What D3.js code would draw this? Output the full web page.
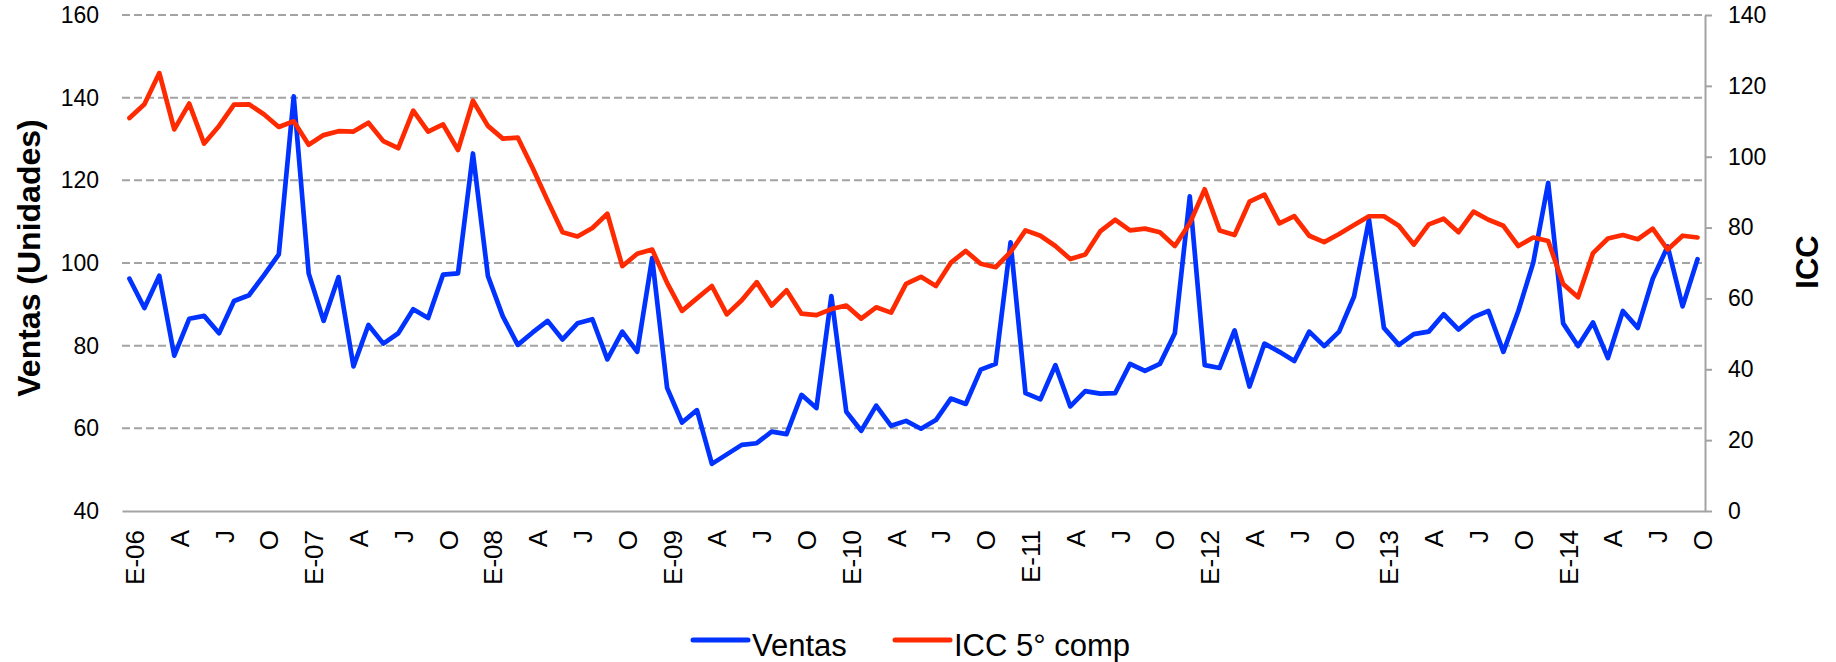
<!DOCTYPE html>
<html>
<head>
<meta charset="utf-8">
<script src="https://cdn.jsdelivr.net/npm/d3@7"></script>
<style>
  body { margin: 0; background: #fff; }
  svg { display: block; font-family: "Liberation Sans", Arial, sans-serif; }
</style>
</head>
<body>
<div id="my_dataviz"></div>
<script>
// monthly data, E-06 .. O-14
var years = ["06", "07", "08", "09", "10", "11", "12", "13", "14"];
var monthInitials = ["E", "F", "M", "A", "M", "J", "J", "A", "S", "O", "N", "D"];

var ventas = [
    96.2, 89.1, 96.9, 77.6, 86.5, 87.2, 83.0, 90.8, 92.2, 97.0, 102.1, 140.3,
    97.5, 86.0, 96.6, 75.0, 85.0, 80.5, 83.0, 88.8, 86.7, 97.2, 97.5, 126.5,
    96.9, 87.1, 80.2, 83.2, 86.0, 81.5, 85.4, 86.4, 76.7, 83.4, 78.5, 101.2,
    69.8, 61.4, 64.4, 51.4, 53.7, 56.0, 56.4, 59.2, 58.6, 68.1, 64.9, 92.0,
    64.0, 59.4, 65.5, 60.6, 61.8, 59.9, 62.0, 67.2, 65.9, 74.2, 75.6, 105.0,
    68.5, 67.0, 75.3, 65.3, 69.0, 68.4, 68.5, 75.6, 73.9, 75.6, 83.0, 116.1,
    75.3, 74.6, 83.7, 70.1, 80.5, 78.5, 76.3, 83.4, 79.9, 83.4, 91.9, 110.5,
    84.3, 80.2, 82.8, 83.4, 87.6, 83.9, 86.9, 88.4, 78.5, 88.4, 100.1, 119.4,
    85.4, 79.9, 85.6, 77.0, 88.4, 84.3, 96.2, 104.0, 89.5, 100.9
];

var icc = [
    110.9, 114.8, 123.6, 107.7, 115.0, 103.7, 108.7, 114.7, 114.8, 112.0, 108.4, 110.0,
    103.4, 106.1, 107.2, 107.1, 109.6, 104.4, 102.4, 113.0, 107.1, 109.1, 101.9, 115.8,
    108.7, 105.1, 105.4, 96.8, 87.6, 78.7, 77.5, 79.9, 83.9, 69.1, 72.6, 73.8,
    64.4, 56.5, 60.0, 63.5, 55.5, 59.5, 64.6, 58.0, 62.3, 55.7, 55.3, 57.0,
    58.0, 54.3, 57.5, 56.0, 64.1, 66.1, 63.5, 70.1, 73.4, 69.8, 68.8, 73.1,
    79.2, 77.7, 74.8, 71.1, 72.4, 78.9, 82.2, 79.2, 79.7, 78.7, 74.8, 81.2,
    90.8, 79.2, 77.9, 87.3, 89.3, 81.2, 83.2, 77.7, 75.9, 78.2, 80.7, 83.2,
    83.2, 80.5, 75.2, 80.9, 82.5, 78.7, 84.5, 82.2, 80.5, 74.8, 77.2, 76.2,
    64.1, 60.3, 72.8, 76.9, 77.9, 76.7, 79.7, 73.8, 77.7, 77.2
];

var leftTicks = [40, 60, 80, 100, 120, 140, 160];
var rightTicks = [0, 20, 40, 60, 80, 100, 120, 140];
var seriesNames = ["Ventas", "ICC 5\u00b0 comp"];
var colors = ["#0033ff", "#ff2a00"];

// category names: E-06, F, M, A ... (only every 3rd one is shown)
var categories = [];
years.forEach(function(y) {
    monthInitials.forEach(function(m, j) {
        categories.push(j == 0 ? "E-" + y : m);
    });
});
categories = categories.slice(0, ventas.length);

var width = 1836, height = 662;
var plot = {left: 122, right: 1705, top: 15, bottom: 511};

var svg = d3.select("#my_dataviz")
    .append("svg")
    .attr("width", width)
    .attr("height", height);

var x = d3.scalePoint()
    .domain(d3.range(categories.length))
    .range([plot.left, plot.right])
    .padding(0.5);

var yL = d3.scaleLinear().domain([40, 160]).range([plot.bottom, plot.top]);
var yR = d3.scaleLinear().domain([0, 140]).range([plot.bottom, plot.top]);

// dashed gridlines (left axis)
svg.append("g")
    .selectAll("line")
    .data(leftTicks.slice(1))
    .enter()
    .append("line")
    .attr("x1", plot.left)
    .attr("x2", plot.right)
    .attr("y1", function(d) { return yL(d); })
    .attr("y2", function(d) { return yL(d); })
    .attr("stroke", "#a3a3a3")
    .attr("stroke-width", 2)
    .attr("stroke-dasharray", "8,4");

// left axis labels
var gL = svg.append("g")
    .attr("transform", "translate(" + plot.left + ",0)")
    .call(d3.axisLeft(yL).tickValues(leftTicks).tickSize(0).tickPadding(23));
gL.select(".domain").remove();
gL.selectAll("text").attr("font-size", "23px").attr("fill", "#000").attr("font-family", null);

// right axis
var gR = svg.append("g")
    .attr("transform", "translate(" + plot.right + ",0)")
    .call(d3.axisRight(yR).tickValues(rightTicks).tickSize(7).tickSizeOuter(0).tickPadding(16));
gR.select(".domain").attr("stroke", "#a3a3a3").attr("stroke-width", 2);
gR.selectAll(".tick line").attr("stroke", "#a3a3a3").attr("stroke-width", 2);
gR.selectAll("text").attr("font-size", "23px").attr("fill", "#000").attr("font-family", null);

// bottom axis with rotated labels
var gX = svg.append("g")
    .attr("transform", "translate(0," + plot.bottom + ")")
    .call(d3.axisBottom(x)
        .tickValues(d3.range(0, categories.length, 3))
        .tickFormat(function(i) { return categories[i]; })
        .tickSize(0)
        .tickSizeOuter(0));
gX.select(".domain").attr("stroke", "#a3a3a3").attr("stroke-width", 2);
gX.selectAll("text")
    .attr("font-family", null)
    .attr("font-size", "26px")
    .attr("fill", "#000")
    .attr("y", null)
    .attr("dy", null)
    .attr("text-anchor", "end")
    .attr("transform", "translate(14,19) rotate(-90)");

// lines
var line = function(scale) {
    return d3.line()
        .x(function(d, i) { return x(i); })
        .y(function(d) { return scale(d); });
};

svg.append("path")
    .datum(ventas)
    .attr("fill", "none")
    .attr("stroke", colors[0])
    .attr("stroke-width", 4.7)
    .attr("stroke-linejoin", "round")
    .attr("stroke-linecap", "round")
    .attr("d", line(yL));

svg.append("path")
    .datum(icc)
    .attr("fill", "none")
    .attr("stroke", colors[1])
    .attr("stroke-width", 4.7)
    .attr("stroke-linejoin", "round")
    .attr("stroke-linecap", "round")
    .attr("d", line(yR));

// axis titles
svg.append("text")
    .attr("transform", "translate(40,258) rotate(-90)")
    .attr("text-anchor", "middle")
    .attr("font-size", "32px")
    .attr("font-weight", "bold")
    .text("Ventas (Unidades)");

svg.append("text")
    .attr("transform", "translate(1818,262) rotate(-90)")
    .attr("text-anchor", "middle")
    .attr("font-size", "31px")
    .attr("font-weight", "bold")
    .text("ICC");

// legend
var legendX = [693, 895];
var leg = svg.append("g")
    .selectAll("g")
    .data(seriesNames)
    .enter()
    .append("g")
    .attr("transform", function(d, i) { return "translate(" + legendX[i] + ",640)"; });
leg.append("line")
    .attr("x1", 0)
    .attr("x2", 55)
    .attr("stroke", function(d, i) { return colors[i]; })
    .attr("stroke-width", 5)
    .attr("stroke-linecap", "round");
leg.append("text")
    .attr("x", 59)
    .attr("y", 16)
    .attr("font-size", "31px")
    .text(function(d) { return d; });
</script>
</body>
</html>
